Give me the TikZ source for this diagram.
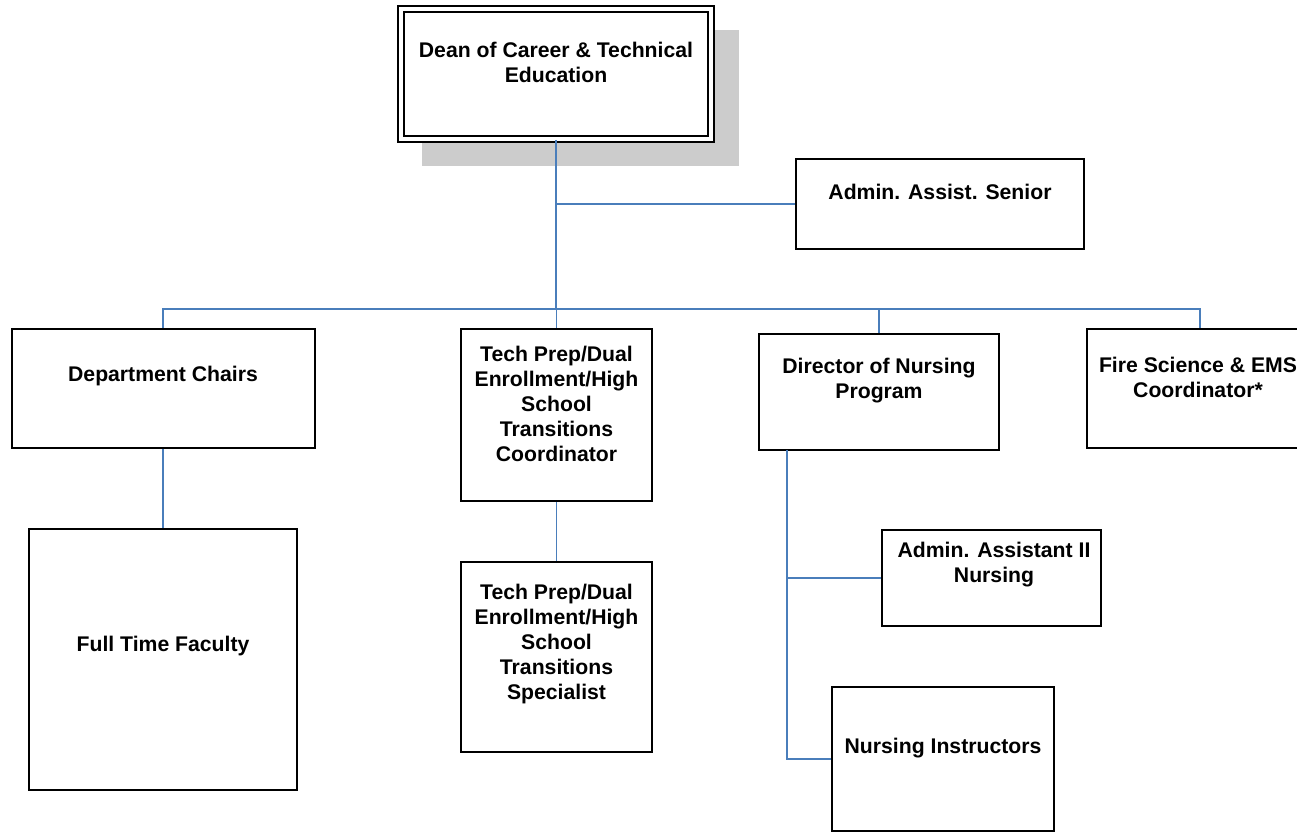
\documentclass[tikz,border=0pt]{standalone}
\usepackage{fontspec}
\setmainfont{Liberation Sans}
\usepackage{tikz}
\usetikzlibrary{shapes,arrows}

\definecolor{linkblue}{HTML}{4A7EBB}
\definecolor{shadowgray}{HTML}{CCCCCC}

\tikzset{
  post/.style={draw,line width=1pt,fill=white,inner sep=0pt},
  lbl/.style={align=center,inner sep=0pt,font=\bfseries\fontsize{10.6}{12.5}\selectfont},
  conn/.style={draw=linkblue,line width=0.8pt}
}

\begin{document}
\begin{tikzpicture}[x=0.5pt,y=-0.5pt]
\useasboundingbox (0,0) rectangle (1297,833);

% top box with its shadow
\fill[shadowgray] (422,30) rectangle (739,166);
\node [post,double,double distance=2.2pt,line width=0.8pt,minimum width=155pt,minimum height=65pt] (dean) at (556,74) {};
\node [lbl] (dean-t) at (556,62) {Dean of Career \& Technical\\Education};

\node [post,minimum width=144pt,minimum height=45pt] (admin) at (940,204) {};
\node [lbl] (admin-t) at (940,192) {Admin. Assist. Senior};

\node [post,minimum width=151.5pt,minimum height=59.5pt] (dept) at (163,388.5) {};
\node [lbl] (dept-t) at (163,376) {Department Chairs};

\node [post,minimum width=95.5pt,minimum height=86pt] (tech) at (556.5,415) {};
\node [lbl] (tech-t) at (556.5,404) {Tech Prep/Dual\\Enrollment/High\\School\\Transitions\\Coordinator};

\node [post,minimum width=120pt,minimum height=58pt] (dir) at (879,392) {};
\node [lbl] (dir-t) at (879,381) {Director of Nursing\\Program};

\node [post,minimum width=113pt,minimum height=59.5pt] (fire) at (1200,388.5) {};
\node [lbl] (fire-t) at (1198,377) {Fire Science \& EMS\\Coordinator*};

\node [post,minimum width=134pt,minimum height=130.5pt] (fac) at (163,659.5) {};
\node [lbl] (fac-t) at (163,646) {Full Time Faculty};

\node [post,minimum width=95.5pt,minimum height=95pt] (spec) at (556.5,657) {};
\node [lbl] (spec-t) at (556.5,644) {Tech Prep/Dual\\Enrollment/High\\School\\Transitions\\Specialist};

\node [post,minimum width=109.5pt,minimum height=48pt] (aa2) at (991.5,578) {};
\node [lbl] (aa2-t) at (994,565) {Admin. Assistant II\\Nursing};

\node [post,minimum width=111pt,minimum height=72pt] (ni) at (943,759) {};
\node [lbl] (ni-t) at (943,748) {Nursing Instructors};

% connectors
\coordinate (hub) at (556,309);
\coordinate (nurse) at (787,450);

\draw[conn] (dean.south) -- (hub);
\draw[conn] (admin.west) -| (hub);
\foreach \n in {dept,tech,dir,fire}
    \draw[conn] (\n.north) |- (hub);

\draw[conn] (dept.south) -- (fac.north);
\draw[conn] (tech.south) -- (spec.north);
\draw[conn] (nurse) |- (ni.west);
\draw[conn] (nurse |- aa2.west) -- (aa2.west);

\end{tikzpicture}
\end{document}
